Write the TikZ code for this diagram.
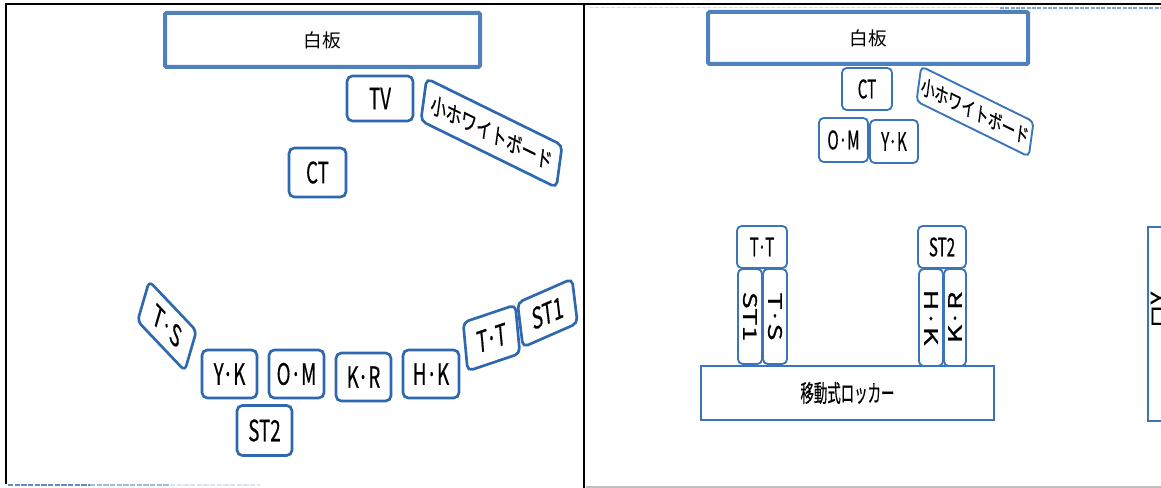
\documentclass[tikz,border=0pt]{standalone}
\usepackage{graphicx}
\usepackage{fontspec}
\setmainfont{Noto Sans CJK JP}
\newfontfamily\medfont[FakeBold=0.6]{Noto Sans CJK JP}
\definecolor{boardblue}{HTML}{4F81BD}
\definecolor{tagblue}{HTML}{2E68AE}
\definecolor{tagblueR}{HTML}{3A74BA}
\tikzset{
  px/.style 2 args={minimum width=#1*0.75pt, minimum height=#2*0.75pt},
  board/.style={draw=boardblue, line width=3pt, fill=white, inner sep=0pt,
    rounded corners=1pt, font=\fontsize{14}{14}\selectfont},
  tag/.style={draw=tagblue, line width=2pt, fill=white, inner sep=0pt, rounded corners=4pt, font=\medfont},
  tagR/.style={draw=tagblueR, line width=1.4pt, fill=white, inner sep=0pt, rounded corners=3.5pt, font=\medfont},
  locker/.style={draw=tagblueR, line width=1.4pt, fill=white, inner sep=0pt, font=\medfont},
  frame/.style={black, line width=1.5pt},
}
% label text in the various boxes
\newcommand\lt[1]{\fontsize{22}{22}\selectfont\scalebox{0.64}[1]{#1}}
\newcommand\ltt[1]{\fontsize{11.6}{12}\selectfont\scalebox{1.2}[1]{#1}}
\newcommand\rt[1]{\fontsize{19}{19}\selectfont\scalebox{0.6}[1]{#1}}
\newcommand\rv[1]{\fontsize{14}{14}\selectfont\scalebox{1.55}[1]{#1}}
% a tilted tag: name, centre, angle, size, text
\newcommand\tiltbox[6]{\begin{scope}[shift={#2},yscale=1.9]
  \node[#6,#4,rotate=#3,transform shape] (#1) at (0,0) {#5};\end{scope}}

\begin{document}
\begin{tikzpicture}[x=0.75pt,y=-0.75pt]
\useasboundingbox (0,0) rectangle (1161,488);

% panel frames
\draw[frame] (6,484) -- (6,4.5) -- (1161,4.5);
\draw[frame] (584,4.5) -- (584,488);
\draw[black!25, line width=0.8pt] (586,487) -- (1161,487);
\draw[tagblue!60, line width=2pt, dash pattern=on 3pt off 1pt] (1000,8) -- (1161,8);
\draw[tagblue!20, line width=1.2pt, dash pattern=on 3pt off 1pt] (590,7.5) -- (1000,7.5);
\draw[tagblue!75, line width=2.2pt, dash pattern=on 4pt off 1pt] (8,485) -- (90,485);
\draw[tagblue!45, line width=2.2pt, dash pattern=on 4pt off 1pt] (90,485) -- (170,485);
\draw[tagblue!18, line width=2.2pt, dash pattern=on 4pt off 1pt] (170,485) -- (260,485);

% ---- left room ----
\node[board, px={315}{54}] (wb1) at (322.5,40) {白板};
\node[tag, px={66}{45}] (tv) at (380,98.5) {\lt{TV}};
\tiltbox{swb1}{(491.5,133)}{-14.5}{px={140}{23}}{\fontsize{9}{9}\selectfont\scalebox{1.3}[1]{小ホワイトボード}}{tag}
\node[tag, px={57}{49}] (ct1) at (317.5,172.5) {\lt{CT}};
\tiltbox{ts1}{(167,326)}{-29}{px={54}{24}}{\ltt{T·S}}{tag}
\node[tag, px={55}{48}] (yk1) at (229.5,374) {\lt{Y·K}};
\node[tag, px={55}{48}] (om1) at (296.5,374) {\lt{O·M}};
\node[tag, px={55}{48}] (kr1) at (363.5,377) {\lt{K·R}};
\node[tag, px={56}{48}] (hk1) at (431,374) {\lt{H·K}};
\node[tag, px={55}{50}] (st2a) at (264.5,430.5) {\lt{ST2}};
\tiltbox{tt1}{(491.5,338)}{10}{px={53}{26}}{\ltt{T·T}}{tag}
\tiltbox{st1}{(547.5,313)}{13}{px={56}{24}}{\ltt{ST1}}{tag}

% ---- right room ----
\node[board, px={320}{52}] (wb2) at (868,38) {白板};
\node[tagR, px={50}{42}] (ct2) at (867,89) {\rt{CT}};
\tiltbox{swb2}{(975,111.5)}{-14.5}{px={116}{19}}{\fontsize{8.3}{8}\selectfont\scalebox{1.25}[1]{小ホワイトボード}}{tagR}
\node[tagR, px={49}{44}] (om2) at (843.5,140) {\rt{O·M}};
\node[tagR, px={48}{43}] (yk2) at (894,141.5) {\rt{Y·K}};

\node[tagR, px={50}{42}] (tt2) at (762,247) {\rt{T·T}};
\node[tagR, px={95}{24}, rotate=-90] (st1v) at (750,316.5) {\rv{ST1}};
\node[tagR, px={95}{24}, rotate=-90] (tsv) at (775,316.5) {\rv{T·S}};
\node[tagR, px={48}{42}] (st2b) at (942,247) {\rt{ST2}};
\node[tagR, px={97}{24}, rotate=-90] (hkv) at (931,317.5) {\rv{H·K}};
\node[tagR, px={97}{22}, rotate=90] (krv) at (955,317.5) {\rv{K·R}};
\node[locker, px={293}{54}] (lock) at (847.5,393) {\fontsize{18}{18}\selectfont\scalebox{0.56}[1]{移動式ロッカー}};

\begin{scope}
  \clip (586,0) rectangle (1161,488);
  \node[locker, px={40}{194}, anchor=north west] (lock2) at (1147,226) {};
  \node[rotate=90, inner sep=0pt, font=\medfont] (lock2t) at (1158,310) {\fontsize{15}{15}\selectfont\scalebox{1.2}[1]{ロY}};
\end{scope}
\end{tikzpicture}
\end{document}
